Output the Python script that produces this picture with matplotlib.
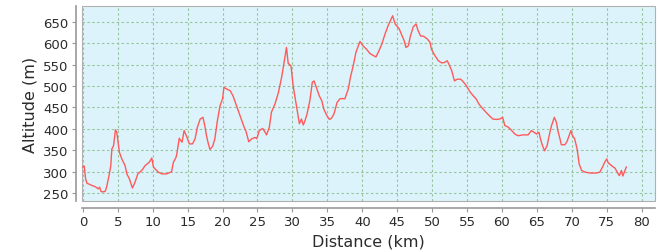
import numpy as np
import matplotlib
matplotlib.use("Agg")
import matplotlib.pyplot as plt
from matplotlib.patches import Rectangle

# elevation profile (km, m)
distance_km = [0.0, 0.2, 0.4, 0.6, 0.9, 1.3, 1.8, 2.2, 2.4, 2.6, 2.8, 3.2, 3.4, 3.8,
               4.0, 4.15, 4.4, 4.67, 4.86, 5.24, 5.58, 6.05, 6.3, 6.67, 7.1, 7.48,
               7.87, 8.44, 8.9, 9.5, 9.87, 10.1, 10.34, 10.8, 11.3, 12.0, 12.7,
               12.96, 13.35, 13.5, 13.8, 14.0, 14.2, 14.5, 14.9, 15.25, 15.7, 16.07,
               16.4, 16.8, 17.2, 17.5, 17.7, 17.97, 18.2, 18.6, 18.9, 19.26, 19.64,
               20.0, 20.2, 20.6, 21.1, 21.5, 22.0, 22.5, 23.0, 23.4, 23.75, 24.2,
               24.65, 24.9, 25.26, 25.75, 26.1, 26.3, 26.7, 27.0, 27.5, 28.0, 28.5,
               28.8, 29.15, 29.4, 29.8, 30.1, 30.5, 30.85, 31.0, 31.3, 31.56, 31.8,
               32.1, 32.5, 32.85, 33.1, 33.5, 33.85, 34.2, 34.5, 34.9, 35.3, 35.6,
               35.95, 36.2, 36.4, 36.8, 37.1, 37.5, 38.0, 38.3, 38.7, 39.1, 39.67,
               40.1, 40.6, 41.1, 41.6, 41.96, 42.3, 42.8, 43.25, 43.7, 44.06, 44.35,
               44.7, 44.9, 45.3, 45.6, 46.0, 46.25, 46.6, 46.9, 47.3, 47.7, 48.0,
               48.35, 48.8, 49.3, 49.7, 49.9, 50.4, 50.9, 51.36, 51.8, 52.16, 52.4,
               52.8, 53.2, 53.6, 54.1, 54.45, 54.9, 55.4, 55.9, 56.3, 56.7, 57.2,
               57.7, 58.3, 58.7, 59.2, 59.7, 60.1, 60.4, 60.9, 61.4, 61.85, 62.3,
               63.0, 63.75, 64.2, 64.6, 64.95, 65.3, 65.5, 65.8, 66.1, 66.46, 66.75,
               67.1, 67.5, 67.8, 68.0, 68.3, 68.5, 69.0, 69.3, 69.6, 69.86, 70.1,
               70.4, 70.76, 71.05, 71.4, 71.9, 72.6, 73.5, 74.0, 74.4, 74.7, 75.0,
               75.2, 75.7, 76.2, 76.5, 76.8, 77.1, 77.3, 77.6, 77.8]
altitude_m = [311, 313, 283, 273, 271, 268, 265, 260, 264, 254, 253, 254, 264, 295,
              314, 353, 361, 398, 392, 345, 330, 314, 295, 283, 262, 276,
              295, 303, 314, 322, 332, 311, 307, 299, 295, 295, 300,
              322, 334, 346, 378, 373, 369, 396, 381, 365, 365, 377,
              404, 423, 427, 404, 384, 365, 352, 360, 377, 419, 454,
              470, 497, 493, 489, 477, 454, 431, 408, 392, 370, 377,
              380, 377, 396, 401, 392, 386, 404, 439, 458, 485, 524,
              555, 590, 553, 547, 501, 462, 427, 412, 423, 409, 419,
              435, 466, 509, 512, 493, 477, 466, 446, 432, 422, 425,
              435, 450, 462, 470, 471, 470, 493, 520, 547, 579, 604,
              594, 586, 576, 571, 568, 579, 598, 621, 641, 654, 664,
              645, 641, 633, 621, 606, 590, 594, 617, 638, 645, 629,
              617, 616, 610, 602, 586, 571, 559, 554, 555, 559, 551,
              536, 512, 516, 516, 510, 501, 487, 477, 470, 458, 448,
              439, 429, 423, 422, 423, 427, 408, 404, 396, 388, 384,
              386, 386, 396, 392, 388, 392, 377, 361, 349, 361, 384,
              408, 427, 415, 396, 377, 363, 363, 370, 384, 396, 384,
              377, 353, 318, 303, 299, 297, 297, 299, 311, 322, 330,
              321, 314, 308, 299, 291, 303, 290, 303, 311]

x_ticks = np.arange(0, 85, 5)
y_ticks = np.arange(250, 700, 50)

fig = plt.figure(figsize=(6.69, 2.53), dpi=100)
ax = fig.add_axes([0.1233, 0.2004, 0.8557, 0.7706])
ax.set_facecolor('#ddf3fb')

ax.plot(distance_km, altitude_m, color='#ff5a5a', lw=1.0)

ax.set_xlim(-0.05, 81.9)
ax.set_ylim(231, 686)
ax.set_xticks(x_ticks)
ax.set_yticks(y_ticks)
ax.grid(True, color='#97c49c', linestyle=(0, (2.2, 2.2)), lw=0.8)
ax.set_axisbelow(True)

# axis lines sit a little away from the plot area, like the original
for side in ['top', 'right']:
    ax.spines[side].set_visible(False)
for side in ['left', 'bottom']:
    ax.spines[side].set_position(('outward', 5))
    ax.spines[side].set_color('#999999')
    ax.spines[side].set_linewidth(1.2)
ax.spines['left'].set_bounds(231, 686)
ax.spines['bottom'].set_bounds(-0.05, 81.9)
ax.add_patch(Rectangle((0, 0), 1, 1, transform=ax.transAxes, fill=False,
                       edgecolor='#b0b0b0', lw=0.8, clip_on=False))

ax.tick_params(axis='both', colors='#999999', labelcolor='#2b2b2b',
               labelsize=9.5, length=3, width=0.8, pad=2)
ax.set_xlabel('Distance (km)', fontsize=11.5, color='#2b2b2b', labelpad=4)
ax.set_ylabel('Altitude (m)', fontsize=11.5, color='#2b2b2b', labelpad=4)

plt.savefig('out.png', dpi=100)
